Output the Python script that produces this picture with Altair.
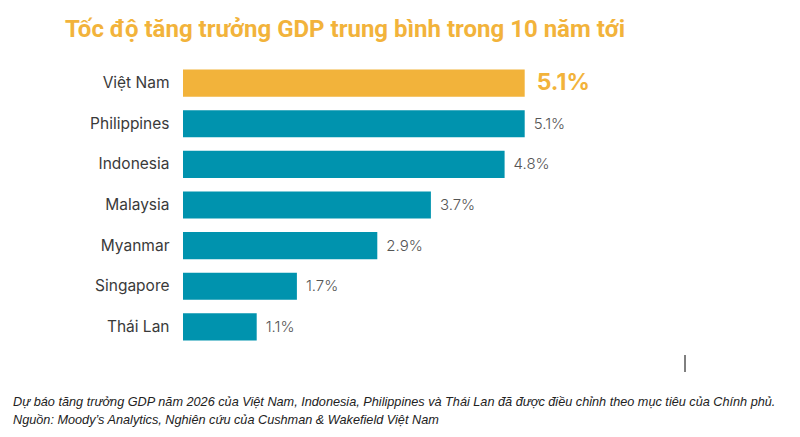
import altair as alt
import pandas as pd

countries = ["Việt Nam", "Philippines", "Indonesia", "Malaysia", "Myanmar", "Singapore", "Thái Lan"]
values = [5.1, 5.1, 4.8, 3.7, 2.9, 1.7, 1.1]
groups = ["vn", "other", "other", "other", "other", "other", "other"]
labels = [f"{v}%" for v in values]

title_text = "Tốc độ tăng trưởng GDP trung bình trong 10 năm tới"
notes = [
    "Dự báo tăng trưởng GDP năm 2026 của Việt Nam, Indonesia, Philippines và Thái Lan đã được điều chỉnh theo mục tiêu của Chính phủ.",
    "Nguồn: Moody’s Analytics, Nghiên cứu của Cushman & Wakefield Việt Nam",
]

df = pd.DataFrame({"country": countries, "value": values, "group": groups, "label": labels})
notes_df = pd.DataFrame({"note": ["\n".join(notes)]})

ORANGE = "#F2B33B"
TEAL = "#0093AE"

y = alt.Y("country:N", sort=countries, title=None,
          scale=alt.Scale(paddingInner=0.33, paddingOuter=0.16),
          axis=alt.Axis(domain=False, ticks=False, labelFontSize=15.5, labelColor="#3a3a3a",
                        labelFont="Inter", labelPadding=14))
x = alt.X("value:Q", title=None, scale=alt.Scale(domain=[0, 6]), axis=None)

base = alt.Chart(df)
bars = base.mark_bar().encode(
    x=x, y=y,
    color=alt.Color("group:N", scale=alt.Scale(domain=["vn", "other"], range=[ORANGE, TEAL]), legend=None),
)
lab_other = base.transform_filter(alt.datum.group == "other").mark_text(
    align="left", baseline="middle", dx=9, fontSize=15, font="Inter", fontWeight=300, color="#555555"
).encode(x=x, y=y, text="label:N")
lab_vn = base.transform_filter(alt.datum.group == "vn").mark_text(
    align="left", baseline="middle", dx=12, fontSize=23, font="Inter", fontWeight="bold", color=ORANGE
).encode(x=x, y=y, text="label:N")

footnote = alt.Chart(notes_df).mark_text(
    align="left", baseline="middle", font="Liberation Sans", fontStyle="italic",
    fontSize=12.7, color="#222222", lineBreak="\n", lineHeight=18
).encode(
    x=alt.value(-170),
    y=alt.value(339),
    text="note:N",
)

stray = alt.Chart(notes_df).mark_rule(color="#000000", strokeWidth=1).encode(
    x=alt.value(502), y=alt.value(292), y2=alt.value(309)
)

chart = alt.layer(bars, lab_other, lab_vn, footnote, stray).properties(
    width=402, height=284,
    padding={"left": 175, "top": 55, "right": 206, "bottom": 80},
    autosize=alt.AutoSizeParams(type="none"),
    title=alt.TitleParams(title_text, anchor="start", frame="group", dx=-118, offset=21, fontSize=24,
                          font="Roboto", fontWeight="bold", color=ORANGE),
).configure_view(stroke=None)

chart.save("out.html", embed_options={"renderer": "svg", "actions": False})
